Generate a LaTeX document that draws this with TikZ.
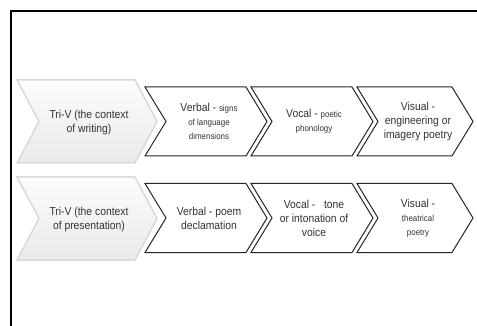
\documentclass[tikz,border=0pt]{standalone}
\usepackage{fontspec}
\setmainfont{Liberation Sans}[FakeStretch=0.9]
\newcommand{\bigtxt}{\fontsize{11.5}{14}\selectfont}
\newcommand{\smtxt}{\fontsize{8.8}{12.5}\selectfont}
% chevron outline: style, left x, centre y, width, half height, depth
\newcommand{\chevshape}[6]{%
  \draw[#1] (#2,#3-#5) -- ++(#4-#6,0) -- ++(#6,#5) -- ++(-#6,#5)
    -- ++(-#4+#6,0) -- ++(#6,-#5) -- cycle;}

\tikzset{
  chev/.style={draw=black!85, fill=white, line width=1pt, line join=miter},
  headchev/.style={draw=gray!30, line width=1.5pt, top color=gray!2, bottom color=gray!17},
  lbl/.style={align=center, text=black!80, font=\bigtxt, inner sep=0pt}
}

\begin{document}
\begin{tikzpicture}[x=1pt, y=-1pt]
    \useasboundingbox (0,0) rectangle (477,326);
    % Frame
    \draw[line width=1.8pt] (11,326) -- (11,11) -- (477,11);

    % Row 1: writing
    \chevshape{headchev}{17}{121.5}{140}{41.5}{22}
    \chevshape{chev}{145}{121.5}{122}{34.5}{21}
    \chevshape{chev}{251}{121.5}{122}{34.5}{21}
    \chevshape{chev}{357}{121.5}{116}{34.5}{21}
    \node[lbl] (write) at (89,123) {Tri-V (the context\\of writing)};
    \node[lbl] (wverbal) at (209,121.5) {Verbal - {\smtxt signs}\\{\smtxt of language}\\{\smtxt dimensions}};
    \node[lbl] (wvocal) at (314,121.5) {Vocal - {\smtxt poetic}\\{\smtxt phonology}};
    \node[lbl] (wvisual) at (418,121.5) {Visual -\\engineering or\\imagery poetry};

    % Row 2: presentation
    \chevshape{headchev}{17}{218.5}{140}{41.5}{22}
    \chevshape{chev}{145}{218}{122}{34.5}{21}
    \chevshape{chev}{251}{218}{122}{34.5}{21}
    \chevshape{chev}{357}{218}{116}{34.5}{21}
    \node[lbl] (present) at (89,220) {Tri-V (the context\\of presentation)};
    \node[lbl] (pverbal) at (209,218) {Verbal - poem\\declamation};
    \node[lbl] (pvocal) at (314,218) {Vocal - \ \ tone\\or intonation of\\voice};
    \node[lbl] (pvisual) at (418,218) {Visual -\\{\smtxt theatrical}\\{\smtxt poetry}};
\end{tikzpicture}
\end{document}
